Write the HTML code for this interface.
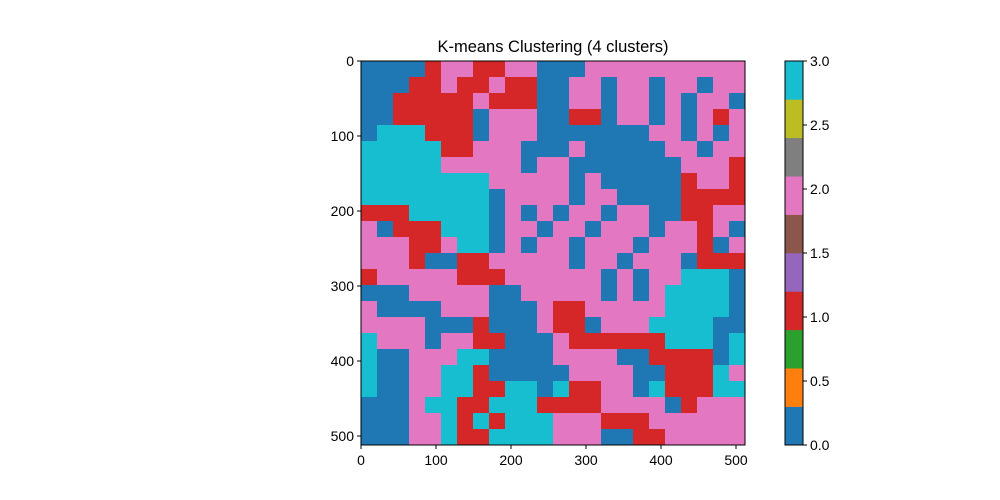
<!DOCTYPE html>
<html><head><meta charset="utf-8"><style>
html,body{margin:0;padding:0;background:#fff;width:1000px;height:500px;overflow:hidden}
svg text{font-family:"Liberation Sans","DejaVu Sans",sans-serif;font-size:14px;fill:#000}
</style></head><body>
<svg id="chart" width="1000" height="500">
<text x="553" y="52" text-anchor="middle" style="font-size:16.5px">K-means Clustering (4 clusters)</text>
<g id="img"></g>
<g id="axes"></g>
<g id="cbar"></g>
</svg>
<script>
const clusterRows = [
"000012211220002222222222","000112112110022022022022","001111121110022022020220","001111102220011022020212",
"033311102220000000220202","333331122200020000022022","333332222202200000002221","333333332222202000001221",
"333333330222202200001111","111333330202022022001122","201113330220220222022120","222112330202202220222102",
"222100112222202202220111","122222111222222020223330","000222220022222020233330","200002220002112222233330",
"222200010002110222333300","322202211000211111133303","300222330000222200111103","300223310000022220011132",
"300223311330311220311133","000233113331111222201222","000223131333222111222222","000223113333222001122222"];
const xTicks = [0,100,200,300,400,500];
const yTicks = [0,100,200,300,400,500];
const cbTicks = ["0.0","0.5","1.0","1.5","2.0","2.5","3.0"];
const clusterColors = ["#1f77b4","#d62728","#e377c2","#17becf"];
const cbColors = ["#1f77b4","#ff7f0e","#2ca02c","#d62728","#9467bd","#8c564b","#e377c2","#7f7f7f","#bcbd22","#17becf"];
const NS="http://www.w3.org/2000/svg";
const X0=361,Y0=61,W=384,H=384,N=512;
const sx=v=>X0+v*W/N, sy=v=>Y0+v*H/N;
function mk(t,a,p){const e=document.createElementNS(NS,t);for(const k in a)e.setAttribute(k,a[k]);p.appendChild(e);return e;}
const img=document.getElementById('img');
const n=clusterRows.length, cs=N/n;
clusterRows.forEach((row,r)=>{row.split('').forEach((d,c)=>{
 const e=mk('rect',{x:sx(c*cs),y:sy(r*cs),width:W/n+0.5,height:H/n+0.5,fill:clusterColors[+d]},img);
 
 
});});
const ax=document.getElementById('axes');
mk('rect',{x:X0,y:Y0,width:W,height:H,fill:'none',stroke:'#000','stroke-width':1},ax);
xTicks.forEach(v=>{mk('line',{x1:sx(v),x2:sx(v),y1:Y0+H,y2:Y0+H+4,stroke:'#000'},ax);
 const t=mk('text',{x:sx(v),y:Y0+H+20,'text-anchor':'middle'},ax);t.textContent=v;
 
 });
yTicks.forEach(v=>{mk('line',{x1:X0-4,x2:X0,y1:sy(v),y2:sy(v),stroke:'#000'},ax);
 const t=mk('text',{x:X0-7,y:sy(v)+5,'text-anchor':'end'},ax);t.textContent=v;
 
 });
const cb=document.getElementById('cbar');
const CX=785,CW=18,segH=H/cbColors.length;
cbColors.forEach((c,i)=>{const e=mk('rect',{x:CX,y:Y0+H-(i+1)*segH,width:CW,height:segH+0.3,fill:c},cb);
 
 });
mk('rect',{x:CX,y:Y0,width:CW,height:H,fill:'none',stroke:'#000'},cb);
cbTicks.forEach((l,i)=>{const y=Y0+H-i*H/(cbTicks.length-1);
 mk('line',{x1:CX+CW,x2:CX+CW+4,y1:y,y2:y,stroke:'#000'},cb);
 const t=mk('text',{x:CX+CW+7,y:y+5},cb);t.textContent=l;
 
 });
</script>
</body></html>
